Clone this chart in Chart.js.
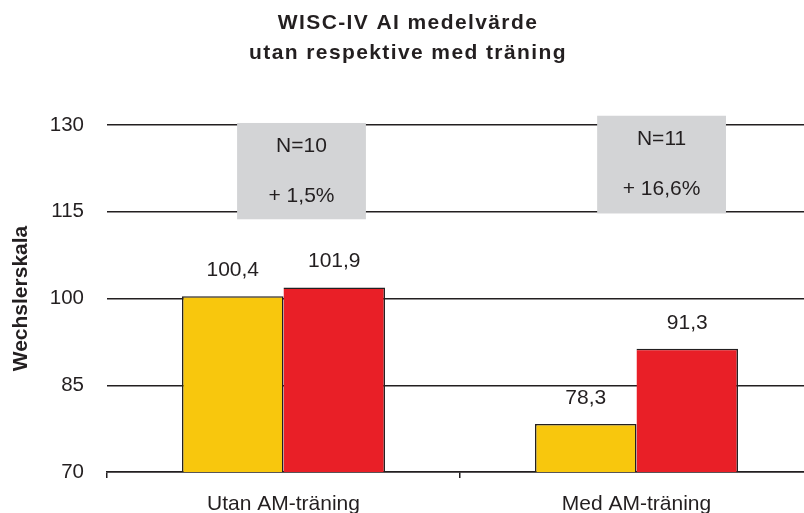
<!DOCTYPE html>
<html>
<head>
<meta charset="utf-8">
<script src="https://cdn.jsdelivr.net/npm/chart.js@4"></script>
<style>
  body { margin: 0; background: #fff; }
  #wrap { width: 804px; height: 513px; overflow: hidden; }
</style>
</head>
<body>
<div id="wrap"><canvas id="myChart" width="816" height="513"></canvas></div>
<script>
let titleLines = ['WISC-IV AI medelvärde', 'utan respektive med träning'];
let categories = ['Utan AM-träning', 'Med AM-träning'];
let seriesA = [100.4, 78.3];
let seriesB = [101.9, 91.3];
let yTicks = [70, 85, 100, 115, 130];
let noteN = ['N=10', 'N=11'];
let noteChange = ['+ 1,5%', '+ 16,6%'];

// where the grey note boxes sit (category offset + value range)
let noteBoxes = [
  { dx: 0.051, top: 130.35, bottom: 113.7 },
  { dx: 0.071, top: 131.6, bottom: 114.7 }
];

let textColor = '#231f20';
let lineColor = '#231f20';
let font = '"Liberation Sans", Arial, sans-serif';

function fmt(v) {
  return v.toFixed(1).replace('.', ',');
}

const extras = {
  id: 'extras',
  beforeDatasetsDraw(chart) {
    const ctx = chart.ctx, x = chart.scales.x, y = chart.scales.y;
    const catW = x.getPixelForValue(1) - x.getPixelForValue(0);
    noteBoxes.forEach((b, i) => {
      const cx = x.getPixelForValue(i) + b.dx * catW;
      const w = 0.365 * catW;
      const top = y.getPixelForValue(b.top), bot = y.getPixelForValue(b.bottom);
      ctx.save();
      ctx.fillStyle = '#d3d4d6';
      ctx.fillRect(cx - w / 2, top, w, bot - top);
      ctx.fillStyle = textColor;
      ctx.font = '21px ' + font;
      ctx.textAlign = 'center';
      ctx.textBaseline = 'middle';
      ctx.fillText(noteN[i], cx, top + 23);
      ctx.fillText(noteChange[i], cx, top + 73);
      ctx.restore();
    });
  },
  afterDatasetsDraw(chart) {
    const ctx = chart.ctx;
    ctx.save();
    ctx.fillStyle = textColor;
    ctx.font = '21px ' + font;
    ctx.textAlign = 'center';
    ctx.textBaseline = 'middle';
    chart.data.datasets.forEach((ds, di) => {
      chart.getDatasetMeta(di).data.forEach((bar, i) => {
        ctx.fillText(fmt(ds.data[i]), bar.x, bar.y - 26);
      });
    });
    ctx.restore();
  },
  afterDraw(chart) {
    const ctx = chart.ctx;
    ctx.save();
    ctx.fillStyle = textColor;
    ctx.font = 'bold 21px ' + font;
    ctx.letterSpacing = '1.4px';
    ctx.textAlign = 'center';
    ctx.textBaseline = 'middle';
    ctx.fillText(titleLines[0], chart.width / 2, 23);
    ctx.fillText(titleLines[1], chart.width / 2, 53);
    ctx.restore();
  }
};

let ctx = document.getElementById('myChart').getContext('2d');

let chart = new Chart(ctx, {
  type: 'bar',
  data: {
    labels: categories,
    datasets: [
      {
        data: seriesA,
        backgroundColor: '#f8c70d',
        borderColor: lineColor,
        borderWidth: { top: 1.5, left: 1.5, right: 1.5, bottom: 0 },
        borderSkipped: false,
        categoryPercentage: 0.575,
        barPercentage: 1
      },
      {
        data: seriesB,
        backgroundColor: '#e91f27',
        borderColor: lineColor,
        borderWidth: { top: 1.5, left: 0, right: 1.5, bottom: 0 },
        borderSkipped: false,
        categoryPercentage: 0.575,
        barPercentage: 1
      }
    ]
  },
  options: {
    responsive: false,
    animation: false,
    layout: { padding: { top: 125, right: 3, left: 0, bottom: 0 } },
    plugins: {
      legend: { display: false },
      tooltip: { enabled: false }
    },
    scales: {
      x: {
        afterFit(scale) { scale.height = 41; },
        grid: {
          display: true,
          drawOnChartArea: false,
          drawTicks: true,
          tickLength: 6,
          offset: true,
          color: lineColor,
          lineWidth: 1.5
        },
        border: { display: true, color: lineColor, width: 1.5 },
        ticks: { color: textColor, font: { family: font, size: 21 }, padding: 14 }
      },
      y: {
        min: 70,
        max: 130,
        afterFit(scale) { scale.width = 107; },
        afterBuildTicks(scale) { scale.ticks = yTicks.map(v => ({ value: v })); },
        grid: { color: lineColor, lineWidth: 1.5, drawTicks: false },
        border: { display: false },
        ticks: { color: textColor, font: { family: font, size: 20.5 }, padding: 23 },
        title: {
          display: true,
          text: 'Wechslerskala',
          color: textColor,
          font: { family: font, size: 21, weight: 'bold' },
          padding: { top: 9, bottom: 0 }
        }
      }
    }
  },
  plugins: [extras]
});
</script>
</body>
</html>
